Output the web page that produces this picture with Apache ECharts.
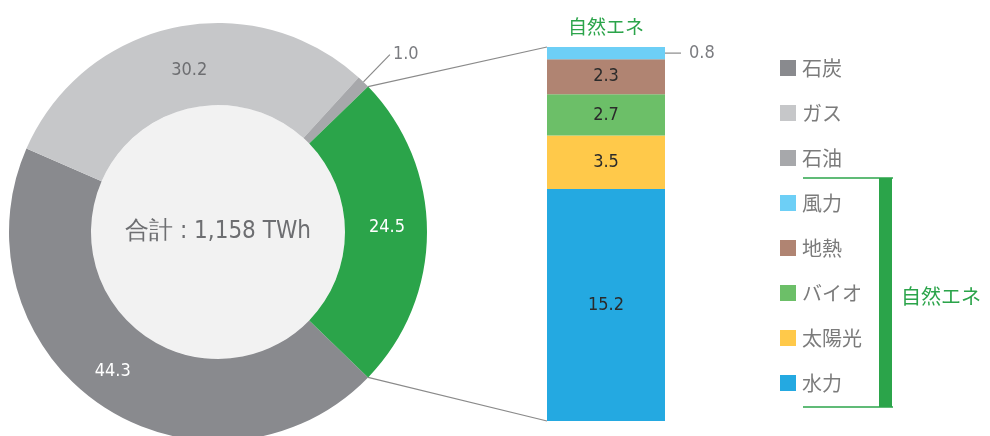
<!DOCTYPE html>
<html>
<head>
<meta charset="utf-8">
<script src="https://cdn.jsdelivr.net/npm/echarts@6/dist/echarts.min.js"></script>
<style>
  html, body { margin: 0; padding: 0; background: #ffffff; }
  #chart { width: 990px; height: 436px; }
</style>
</head>
<body>
<div id="chart"></div>
<script>
// Electricity generation mix (%), total shown in the centre
const sourceNames  = ['石炭', 'ガス', '石油', '自然エネ'];
const sourceShares = [44.3, 30.2, 1.0, 24.5];
const sourceColors = ['#898a8e', '#c6c7c9', '#a7a8ab', '#2ba44a'];
const totalTWh = 1158;

// Breakdown of renewables, stacked bottom to top
const renewNames  = ['水力', '太陽光', 'バイオ', '地熱', '風力'];
const renewShares = [15.2, 3.5, 2.7, 2.3, 0.8];
const renewColors = ['#24a9e1', '#ffc94a', '#6cbf68', '#b08472', '#6dcff6'];

const legendOrder = ['石炭', 'ガス', '石油', '風力', '地熱', 'バイオ', '太陽光', '水力'];
const groupLabel = '自然エネ';

const NUM_FONT = "'Liberation Sans Narrow', 'DejaVu Sans Condensed', Roboto, sans-serif";
const JP_FONT = "'Noto Sans CJK JP', 'Noto Sans', sans-serif";
const GREEN = '#2ba44a';

const pieCenter = [218, 232];
const pieInner = 127, pieOuter = 209;
// Renewables slice centred on the 3 o'clock direction
const renewIdx = sourceNames.length - 1;
const renewSpan = sourceShares[renewIdx] / 100 * 360;
const startAngle = 360 - renewSpan / 2;

const barGrid = { left: 547, width: 118, top: 47, bottom: 15 };
const renewTotal = renewShares.reduce((a, b) => a + b, 0);

const chart = echarts.init(document.getElementById('chart'), null, { renderer: 'canvas' });

const pieData = sourceNames.map((n, i) => {
  const item = { name: n, value: sourceShares[i], itemStyle: { color: sourceColors[i] } };
  if (n === '石油') {
    item.label = { position: 'outside', color: '#7b7c80', distanceToLabelLine: 3 };
    item.labelLine = { show: true, length: 38, length2: 0, lineStyle: { color: '#8a8a8a', width: 1.2 } };
  } else if (n === 'ガス') {
    item.label = { color: '#6d6e71', offset: [7, 6] };
  } else if (n === '石炭') {
    item.label = { offset: [-10, -3] };
  } else {
    item.label = { offset: [-2, -5] };
  }
  return item;
});

const barSeries = renewNames.map((n, i) => {
  const s = {
    name: n,
    type: 'bar',
    stack: 'renew',
    xAxisIndex: 0,
    yAxisIndex: 0,
    barWidth: barGrid.width,
    itemStyle: { color: renewColors[i] },
    data: [renewShares[i]],
    label: {
      show: true,
      position: 'inside',
      color: '#2b2b2b',
      fontFamily: NUM_FONT,
      fontSize: 18,
      formatter: p => p.value.toFixed(1)
    }
  };
  if (i === renewNames.length - 1) {
    s.label = {
      show: true,
      position: 'right',
      distance: 0,
      formatter: p => '{l|}{v|' + p.value.toFixed(1) + '}',
      rich: {
        l: { width: 16, height: 1.2, backgroundColor: '#8a8a8a' },
        v: { color: '#7b7c80', fontFamily: NUM_FONT, fontSize: 18, padding: [0, 0, 0, 8] }
      }
    };
  }
  return s;
});

chart.setOption({
  backgroundColor: '#ffffff',
  animation: false,
  legend: {
    data: legendOrder,
    orient: 'vertical',
    left: 775,
    top: 53,
    itemWidth: 16,
    itemHeight: 16,
    itemGap: 25,
    icon: 'rect',
    selectedMode: false,
    textStyle: { color: '#7b7b7b', fontSize: 20, fontFamily: JP_FONT, lineHeight: 20, padding: [0, 0, 0, 1] }
  },
  grid: barGrid,
  xAxis: {
    type: 'category',
    position: 'top',
    data: [groupLabel],
    axisLine: { show: false },
    axisTick: { show: false },
    axisLabel: { color: GREEN, fontSize: 19, fontFamily: JP_FONT, margin: 11 }
  },
  yAxis: { type: 'value', min: 0, max: renewTotal, show: false },
  series: [
    {
      type: 'pie',
      name: 'total',
      silent: true,
      center: pieCenter,
      radius: [0, pieInner],
      data: [{ name: '合計', value: totalTWh, itemStyle: { color: '#f2f2f2' } }],
      label: {
        position: 'center',
        color: '#6d6e71',
        fontSize: 24,
        fontFamily: NUM_FONT,
        formatter: p => '合計 : ' + p.value.toLocaleString('en-US') + ' TWh'
      },
      labelLine: { show: false }
    },
    {
      type: 'pie',
      name: 'mix',
      silent: true,
      center: pieCenter,
      radius: [pieInner, pieOuter],
      startAngle: startAngle,
      clockwise: true,
      avoidLabelOverlap: false,
      data: pieData,
      label: {
        position: 'inside',
        color: '#ffffff',
        fontSize: 18,
        fontFamily: NUM_FONT,
        formatter: p => p.value.toFixed(1)
      },
      labelLine: { show: false }
    },
    ...barSeries
  ]
});

// Connector lines from the renewables slice to the breakdown bar, and legend bracket
const toRad = d => d * Math.PI / 180;
const a1 = renewSpan / 2, a2 = -renewSpan / 2;
const edge = a => [pieCenter[0] + pieOuter * Math.cos(toRad(a)), pieCenter[1] - pieOuter * Math.sin(toRad(a))];
const barTop = chart.convertToPixel({ xAxisIndex: 0, yAxisIndex: 0 }, [groupLabel, renewTotal]);
const barBottom = chart.convertToPixel({ xAxisIndex: 0, yAxisIndex: 0 }, [groupLabel, 0]);
const barLeft = barTop[0] - barGrid.width / 2;
const p1 = edge(a1), p2 = edge(a2);

chart.setOption({
  graphic: [
    { type: 'line', silent: true, z: 0, shape: { x1: p1[0], y1: p1[1], x2: barLeft, y2: barTop[1] }, style: { stroke: '#8a8a8a', lineWidth: 1.2 } },
    { type: 'line', silent: true, z: 0, shape: { x1: p2[0], y1: p2[1], x2: barLeft, y2: barBottom[1] }, style: { stroke: '#8a8a8a', lineWidth: 1.2 } },
    { type: 'line', silent: true, shape: { x1: 803, y1: 178, x2: 893, y2: 178 }, style: { stroke: GREEN, lineWidth: 1.5 } },
    { type: 'line', silent: true, shape: { x1: 803, y1: 407, x2: 893, y2: 407 }, style: { stroke: GREEN, lineWidth: 1.5 } },
    { type: 'rect', silent: true, shape: { x: 879, y: 178, width: 13, height: 229 }, style: { fill: GREEN } },
    { type: 'text', silent: true, x: 901, y: 296, style: { text: groupLabel, fill: GREEN, font: '20px ' + JP_FONT, textVerticalAlign: 'middle', textAlign: 'left' } }
  ]
});
</script>
</body>
</html>
